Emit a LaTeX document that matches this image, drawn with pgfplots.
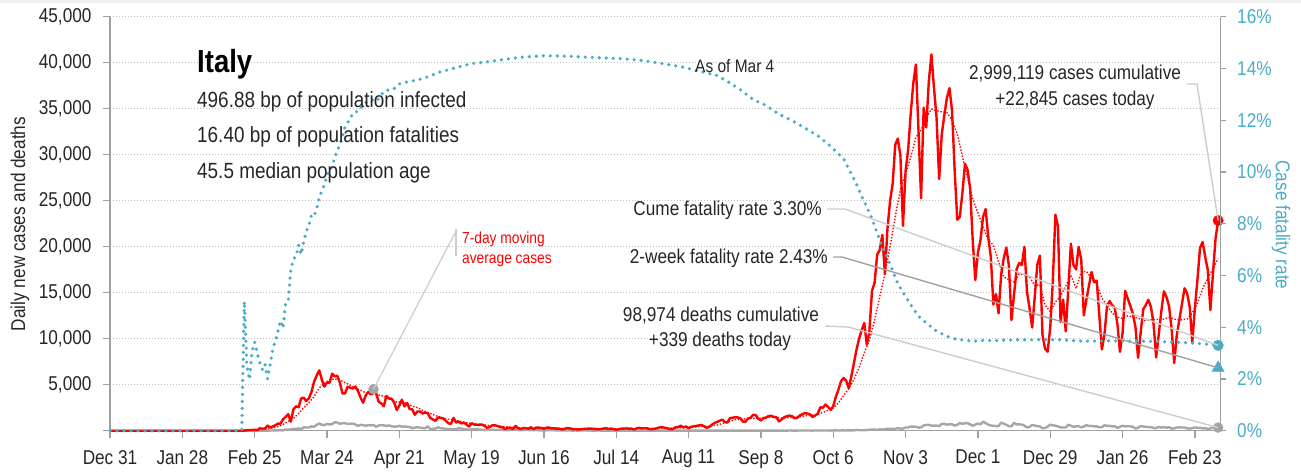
\documentclass[border=0pt]{standalone}
\usepackage{fontspec}
\setmainfont{Liberation Sans}[FakeStretch=0.86]
\usepackage{pgfplots}
\usepackage{pgfplotstable}
\pgfplotsset{compat=1.18}
\definecolor{cred}{HTML}{FF0000}
\definecolor{cblue}{HTML}{4BACC6}
\definecolor{cgray}{HTML}{A6A6A6}
\definecolor{cgrid}{HTML}{BFBFBF}
\definecolor{caxis}{HTML}{A0A0A0}
\definecolor{ctext}{HTML}{262626}
\definecolor{clead}{HTML}{CDCDCD}

% day 0 = Dec 31 2019; d = day, c = daily new cases, k = daily deaths
\pgfplotstableread{
d c k
0 0 0
51 0 0
52 17 1
53 59 1
54 73 1
55 77 4
56 93 4
57 78 1
58 250 5
59 238 4
60 240 8
61 566 5
62 342 18
63 466 27
64 587 28
65 769 41
66 778 49
67 1247 36
68 1492 133
69 1797 97
70 977 168
71 2313 196
72 2651 189
73 2547 250
74 3497 175
75 3590 368
76 3233 349
77 3526 345
78 4207 475
79 5322 427
80 5986 627
81 6557 793
82 5560 651
83 4789 601
84 5249 743
85 5210 683
86 6203 712
87 5909 919
88 5974 889
89 5217 756
90 4050 812
91 4053 837
92 4782 727
93 4668 760
94 4585 766
95 4805 681
96 4316 525
97 3599 636
98 3039 604
99 3836 542
100 4204 610
101 3951 570
102 4694 619
103 4092 431
104 3153 566
105 2972 602
106 2667 578
107 3786 525
108 3493 575
109 3491 482
110 3047 433
111 2256 454
112 2729 534
113 3370 437
114 2646 464
115 3021 420
116 2357 415
117 2324 260
118 1739 333
119 2091 382
120 2086 323
121 1872 285
122 1965 269
123 1900 474
124 1389 174
125 1221 195
126 1075 236
127 1444 369
128 1401 274
129 1327 243
130 1083 194
131 802 165
132 744 179
133 1402 172
134 888 195
135 992 262
136 789 242
137 875 153
138 675 145
139 451 99
140 813 162
141 665 161
142 642 156
143 652 130
144 669 119
145 531 50
146 300 92
147 397 78
148 584 117
149 593 70
150 516 87
151 416 111
152 355 75
153 178 60
154 318 55
155 321 71
156 177 88
157 518 85
158 270 72
159 197 53
160 280 65
161 283 79
162 202 71
163 379 53
164 163 56
165 346 78
166 338 44
167 301 26
168 210 34
169 329 43
170 333 66
171 251 47
172 262 49
173 224 24
174 218 23
175 122 18
176 190 30
177 296 34
178 259 30
179 175 8
180 174 22
181 126 6
182 142 23
183 187 21
184 201 30
185 223 15
186 235 21
187 192 7
188 208 8
189 138 30
190 193 15
191 229 12
192 276 12
193 188 7
194 234 7
195 169 13
196 114 9
197 162 17
198 230 13
199 233 11
200 249 14
201 219 9
202 218 13
203 129 15
204 282 9
205 306 10
206 252 10
207 275 5
208 255 5
209 170 5
210 181 11
211 212 6
212 289 3
213 386 9
214 379 3
215 295 5
216 239 12
217 159 5
218 190 10
219 384 10
220 402 3
221 552 3
222 347 4
223 463 2
224 259 6
225 412 6
226 481 3
227 523 10
228 574 3
229 629 4
230 479 4
231 320 7
232 403 5
233 642 6
234 845 3
235 947 9
236 1071 4
237 1210 7
238 953 4
239 878 13
240 1367 13
241 1411 5
242 1460 9
243 1444 1
244 1365 4
245 996 6
246 978 6
247 1326 6
248 1397 10
249 1733 6
250 1695 7
251 1297 10
252 1108 10
253 1370 10
254 1434 10
255 1597 6
256 1616 7
257 1501 14
258 1458 14
259 1008 14
260 1229 9
261 1452 10
262 1585 10
263 1638 24
264 1587 15
265 1350 14
266 1392 14
267 1640 20
268 1786 23
269 1912 20
270 1869 17
271 1766 17
272 1494 16
273 1648 24
274 1851 19
275 2548 24
276 2499 23
277 2844 27
278 2578 18
279 2257 16
280 2677 28
281 3678 31
282 4458 22
283 5372 28
284 5724 29
285 5456 26
286 4619 39
287 5901 41
288 7332 43
289 8804 83
290 10010 55
291 10925 47
292 11705 69
293 9338 73
294 10874 89
295 15199 127
296 16079 136
297 19143 91
298 19644 151
299 21273 128
300 17012 141
301 21994 221
302 24991 205
303 26831 217
304 31084 199
305 31758 297
306 29907 208
307 22253 233
308 28244 353
309 30550 352
310 34505 445
311 37809 446
312 39811 425
313 32616 331
314 25271 356
315 35098 580
316 32961 623
317 37978 636
318 40902 550
319 37255 544
320 33979 546
321 27354 504
322 32191 731
323 34283 753
324 36176 653
325 37242 699
326 34767 692
327 28337 562
328 22930 630
329 23232 853
330 25853 722
331 29003 822
332 28352 827
333 26323 686
334 20648 541
335 16377 672
336 19350 785
337 20709 684
338 23225 993
339 24099 814
340 21052 662
341 18887 564
342 13720 528
343 14842 491
344 12756 499
345 16999 887
346 18727 761
347 19903 649
348 17938 484
349 12030 491
350 14844 846
351 17572 680
352 18236 683
353 17992 674
354 19974 553
355 15104 352
356 13318 415
357 11210 628
358 14522 553
359 18040 505
360 19037 459
361 10407 261
362 8913 305
363 8585 445
364 11212 659
365 16202 575
366 23477 555
367 22211 462
368 11831 364
369 14245 347
370 10800 348
371 15378 649
372 20331 548
373 18020 414
374 17533 483
375 19978 483
376 18627 361
377 12532 448
378 14242 616
379 15774 507
380 17246 522
381 16146 475
382 16310 477
383 12545 377
384 8824 377
385 10497 603
386 13571 524
387 14078 521
388 13633 472
389 13331 492
390 11629 299
391 8561 420
392 10593 541
393 15204 467
394 14372 492
395 13574 477
396 12715 421
397 11252 237
398 7925 329
399 10630 499
400 13189 456
401 13659 421
402 14218 391
403 13442 385
404 11641 307
405 7970 274
406 10404 422
407 12956 336
408 15146 391
409 14534 316
410 13532 391
411 11068 221
412 7351 258
413 10386 336
414 12074 369
415 13762 347
416 15479 353
417 14931 251
418 13452 232
419 9630 274
420 13314 356
421 16424 318
422 19886 308
423 20499 253
424 18916 280
425 17455 188
426 13114 246
427 17083 343
428 20884 347
429 22845 339
}\daily

% 7-day moving average of cases
\pgfplotstableread{
d a
0 0
51 0
55 32
58 92
60 150
63 311
65 458
67 679
69 1019
71 1339
73 1861
75 2482
77 3051
79 3703
81 4632
83 5135
85 5525
87 5640
89 5507
91 5231
93 4950
95 4594
97 4401
99 4121
101 3964
103 3916
105 3843
107 3616
109 3379
111 3102
113 3167
115 2937
117 2672
119 2507
121 2213
123 1997
126 1644
130 1277
133 1172
137 927
140 783
144 652
147 551
151 477
154 423
158 305
162 275
166 284
170 289
174 261
178 224
182 195
186 184
190 199
194 209
198 196
202 204
206 236
210 246
214 267
218 277
221 317
225 403
228 437
232 487
235 609
239 935
242 1193
246 1289
249 1320
253 1418
256 1445
260 1406
263 1410
267 1521
270 1648
274 1761
277 2093
280 2465
282 2999
284 3821
286 4569
288 5552
290 6835
292 8471
294 9855
296 12019
298 14569
300 17032
302 20019
304 23261
306 26225
308 27867
310 29757
312 31868
314 32687
316 34010
318 34948
320 34778
322 34660
324 34591
326 33713
328 32275
330 29791
332 27496
334 25192
336 23701
338 22141
340 20780
342 20149
344 18369
346 16712
348 16412
350 16171
352 17036
354 16941
356 16720
358 15765
360 15886
362 13635
364 12959
366 13976
368 14633
370 15711
372 16896
374 15448
376 17238
378 17323
380 16562
382 15840
384 14441
386 13591
388 12780
390 12354
392 12199
394 12475
396 12378
398 12234
400 11951
403 12045
405 12107
407 12041
410 12312
412 12142
414 12013
417 12150
419 12816
421 13856
423 15448
425 16589
427 17625
429 18685
}\avg

% case fatality rate, percent
\pgfplotstableread{
d r
0 0
51 0
52 5.00
53 2.53
54 1.97
55 3.06
56 3.42
57 3.00
58 2.62
59 2.36
60 2.57
61 2.01
62 2.55
63 3.16
64 3.46
65 3.84
66 4.25
67 3.96
68 4.96
69 5.05
70 6.22
71 6.64
72 6.72
73 7.17
74 6.81
75 7.31
76 7.71
77 7.94
78 8.34
79 8.30
80 8.57
81 9.01
82 9.26
83 9.51
84 9.86
85 10.09
86 10.19
87 10.56
88 10.84
89 11.03
90 11.39
91 11.75
92 11.90
93 12.07
94 12.25
95 12.33
96 12.32
97 12.47
98 12.63
99 12.67
100 12.73
101 12.77
102 12.79
103 12.73
104 12.83
105 12.97
106 13.11
107 13.12
108 13.19
109 13.20
110 13.22
111 13.31
112 13.40
114 13.45
116 13.51
118 13.53
121 13.61
124 13.71
127 13.84
131 13.95
135 14.06
140 14.19
145 14.24
152 14.34
160 14.44
168 14.49
175 14.48
182 14.45
190 14.41
198 14.38
206 14.31
213 14.20
221 14.07
228 13.90
235 13.73
240 13.44
244 13.18
249 12.80
254 12.57
259 12.23
264 11.99
269 11.70
274 11.40
279 10.99
284 10.51
287 9.92
289 9.53
291 9.06
293 8.64
295 8.19
297 7.64
299 7.10
301 6.67
303 6.18
305 5.68
307 5.34
309 5.03
311 4.71
313 4.43
315 4.25
317 4.09
319 3.91
322 3.75
325 3.61
328 3.52
331 3.50
334 3.46
338 3.49
342 3.48
346 3.50
350 3.51
354 3.51
358 3.52
362 3.52
366 3.52
370 3.50
375 3.47
380 3.46
385 3.47
390 3.47
395 3.46
400 3.46
405 3.45
410 3.43
415 3.41
420 3.38
425 3.34
429 3.30
}\cfr

\pgfplotsset{
  common/.style={
    at={(110pt,41.3pt)}, anchor=south west,
    scale only axis, width=1110.7pt, height=414pt,
    xmin=0, xmax=430, clip=false,
    scaled y ticks=false, scaled x ticks=false,
    axis line style={caxis, line width=1.5pt},
    tick style={caxis, line width=1.3pt},
    tick align=outside,
    major tick length=7pt,
    ticklabel style={font=\fontsize{20}{24}\selectfont},
    /pgf/number format/assume math mode=true,
  }
}

\begin{document}
\begin{tikzpicture}
\path[use as bounding box] (0,0) rectangle (1301pt,472pt);
\fill[black!6] (0,468.5pt) rectangle (1301pt,472pt);

\begin{axis}[common,
  ymin=0, ymax=45000,
  axis x line*=bottom, axis y line*=left,
  xtick={0,28,...,420},
  xticklabels={Dec 31,Jan 28,Feb 25,Mar 24,Apr 21,May 19,Jun 16,Jul 14,Aug 11,Sep 8,Oct 6,Nov 3,Dec 1,Dec 29,Jan 26,Feb 23},
  ytick={0,5000,...,45000},
  yticklabels={{},{5,000},{10,000},{15,000},{20,000},{25,000},{30,000},{35,000},{40,000},{45,000}},
  ticklabel style={text=ctext},
  yticklabel style={xshift=-8pt},
  xticklabel style={yshift=-9pt},
  ymajorgrids,
  grid style={cgrid, line width=1.1pt, dash pattern=on 1.1pt off 1.9pt},
]
\addplot[cgray, line width=2.4pt, line join=round] table[x=d,y=k] {\daily};
\addplot[cred, line width=2.4pt, line join=round] table[x=d,y=c] {\daily};
\addplot[cred, line width=1.4pt, dash pattern=on 1.4pt off 1.7pt] table[x=d,y=a] {\avg};
\addplot[only marks, mark=*, mark size=5pt, cgray] coordinates {(102,4500)};
\addplot[only marks, mark=*, mark size=5pt, cgray] coordinates {(429,339)};
\addplot[only marks, mark=*, mark size=5.2pt, cred] coordinates {(429,22845)};
\coordinate (pAvg) at (axis cs:102,4500);
\coordinate (pDeath) at (axis cs:429,339);
\coordinate (pCase) at (axis cs:429,22845);
\end{axis}

\begin{axis}[common,
  ymin=0, ymax=16,
  axis y line*=right, axis x line=none,
  ytick={0,2,...,16},
  yticklabel={\pgfmathprintnumber{\tick}\%},
  yticklabel style={text=cblue, xshift=8pt},
  major tick length=5pt,
]
\addplot[cblue, line width=3.6pt, line cap=round, dash pattern=on 0pt off 7pt] table[x=d,y=r] {\cfr};
\addplot[only marks, mark=*, mark size=5.3pt, cblue] coordinates {(429,3.30)};
\addplot[only marks, mark=triangle*, mark size=7pt, cblue] coordinates {(429,2.43)};
\coordinate (pCume) at (axis cs:429,3.30);
\coordinate (pTwo) at (axis cs:429,2.43);
\end{axis}

% leader lines
\draw[clead, line width=1.4pt] (1187pt,388pt) -- (1197pt,388pt) -- (pCase);
\draw[clead, line width=1.4pt] (827pt,263pt) -- (845pt,263pt) -- (pCume);
\draw[caxis, line width=1.4pt] (833pt,215pt) -- (842pt,215pt) -- (pTwo);
\draw[clead, line width=1.4pt] (825pt,146pt) -- (848pt,145pt) -- (pDeath);
\draw[clead, line width=1.2pt] (pAvg) -- (455pt,239pt);
\draw[clead, line width=2pt] (456pt,243pt) -- (456pt,216pt);

% axis titles
\node[rotate=90, text=ctext, font=\fontsize{20}{24}\selectfont] at (20pt,248pt) {Daily new cases and deaths};
\node[rotate=-90, text=cblue, font=\fontsize{20}{24}\selectfont] at (1281pt,247pt) {Case fatality rate};

% country info
\node[anchor=base west, inner sep=0pt, text=black, font=\fontsize{32}{36}\selectfont\bfseries] at (197pt,399pt) {Italy};
\node[anchor=base west, inner sep=0pt, text=ctext, font=\fontsize{22}{26}\selectfont] at (197pt,364pt) {496.88 bp of population infected};
\node[anchor=base west, inner sep=0pt, text=ctext, font=\fontsize{22}{26}\selectfont] at (197pt,329pt) {16.40 bp of population fatalities};
\node[anchor=base west, inner sep=0pt, text=ctext, font=\fontsize{22}{26}\selectfont] at (197pt,293pt) {45.5 median population age};

\node[anchor=base west, inner sep=0pt, text=ctext, font=\fontsize{18}{22}\selectfont] at (695pt,399pt) {As of Mar 4};

% annotations
\node[anchor=base, inner sep=0pt, text=ctext, font=\fontsize{20}{24}\selectfont] at (1075pt,392pt) {2,999,119 cases cumulative};
\node[anchor=base, inner sep=0pt, text=ctext, font=\fontsize{20}{24}\selectfont] at (1075pt,366pt) {+22,845 cases today};
\node[anchor=base east, inner sep=0pt, text=ctext, font=\fontsize{20}{24}\selectfont] at (822pt,256pt) {Cume fatality rate 3.30\%};
\node[anchor=base east, inner sep=0pt, text=ctext, font=\fontsize{20}{24}\selectfont] at (828pt,209pt) {2-week fatality rate 2.43\%};
\node[anchor=base, inner sep=0pt, text=ctext, font=\fontsize{20}{24}\selectfont] at (721pt,151pt) {98,974 deaths cumulative};
\node[anchor=base, inner sep=0pt, text=ctext, font=\fontsize{20}{24}\selectfont] at (720pt,126pt) {+339 deaths today};
\node[anchor=base west, inner sep=0pt, text=cred, font=\fontsize{16}{19}\selectfont] at (462pt,229pt) {7-day moving};
\node[anchor=base west, inner sep=0pt, text=cred, font=\fontsize{16}{19}\selectfont] at (462pt,209pt) {average cases};
\end{tikzpicture}
\end{document}
